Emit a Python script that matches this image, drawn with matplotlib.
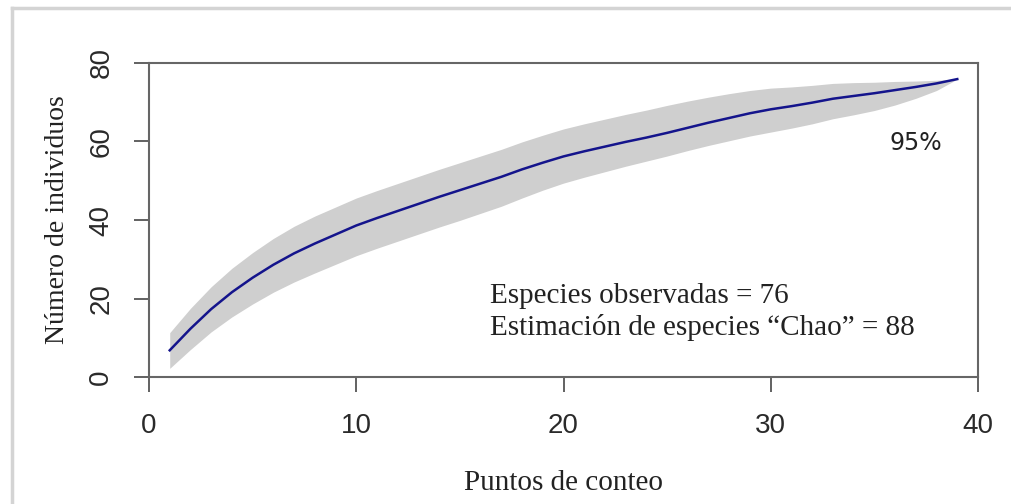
import matplotlib
matplotlib.use("Agg")
import matplotlib.pyplot as plt
from matplotlib.lines import Line2D

# Data
puntos = list(range(1, 40))
especies = [6.8, 12.3, 17.3, 21.6, 25.3, 28.6, 31.5, 34.0, 36.3, 38.6,
            40.5, 42.3, 44.1, 45.9, 47.6, 49.3, 51.0, 52.9, 54.6, 56.2,
            57.5, 58.7, 59.9, 61.0, 62.2, 63.5, 64.8, 66.0, 67.2, 68.2,
            69.0, 69.9, 70.9, 71.6, 72.3, 73.1, 73.9, 74.8, 75.9]
ic_superior = [11.3, 17.5, 23.0, 27.7, 31.7, 35.3, 38.4, 41.0, 43.3, 45.6,
               47.5, 49.3, 51.1, 52.9, 54.6, 56.3, 58.0, 59.9, 61.6, 63.2,
               64.5, 65.7, 66.9, 68.0, 69.2, 70.3, 71.3, 72.2, 73.0, 73.6,
               73.9, 74.3, 74.8, 75.0, 75.1, 75.3, 75.4, 75.6, 75.9]
ic_inferior = [2.2, 7.0, 11.5, 15.3, 18.6, 21.6, 24.2, 26.5, 28.7, 30.9,
               32.8, 34.6, 36.4, 38.2, 39.9, 41.7, 43.5, 45.6, 47.6, 49.4,
               50.9, 52.3, 53.7, 55.0, 56.3, 57.7, 59.0, 60.2, 61.4, 62.4,
               63.4, 64.5, 65.8, 66.8, 67.9, 69.3, 71.0, 73.0, 75.9]
xticks = [0, 10, 20, 30, 40]
yticks = [0, 20, 40, 60, 80]

fig = plt.figure(figsize=(10.11, 5.04), dpi=100)
ax = fig.add_axes([149/1011, 1 - 377/504, (978-149)/1011, (377-63)/504])

ax.fill_between(puntos, ic_inferior, ic_superior, color="#cfcfcf", linewidth=0)
ax.plot(puntos, especies, color="#14148c", linewidth=1.8)

ax.set_xlim(0, 40)
ax.set_ylim(0, 80)
ax.set_xticks(xticks)
ax.set_yticks(yticks)
ax.set_xticklabels([str(v) for v in xticks], family="Liberation Sans", fontsize=20, color="#2a2a2a")
ax.set_yticklabels([str(v) for v in yticks], family="Liberation Sans", fontsize=20, color="#2a2a2a",
                   rotation=90, va="center")
ax.tick_params(axis="both", direction="out", length=11, width=1.3, colors="#555555")
ax.tick_params(axis="x", pad=15, labelcolor="#2a2a2a")
ax.tick_params(axis="y", pad=14, labelcolor="#2a2a2a")
for s in ax.spines.values():
    s.set_color("#666666")
    s.set_linewidth(1.5)

ax.set_xlabel("Puntos de conteo", family="Liberation Serif", fontsize=21, color="#222222", labelpad=22)
ax.set_ylabel("Número de individuos", family="Liberation Serif", fontsize=20, color="#222222", labelpad=13)

ax.text(16.46, 20.6, "Especies observadas = 76", family="Liberation Serif", fontsize=21,
        color="#222222", ha="left", va="center")
ax.text(16.46, 12.7, "Estimación de especies \u201cChao\u201d = 88", family="Liberation Serif", fontsize=21,
        color="#222222", ha="left", va="center")
ax.text(37.0, 59.6, "95%", family="DejaVu Sans", fontsize=17, color="#222222", ha="center", va="center")

# outer border
fig.add_artist(Line2D([12/1011, 12/1011], [0, 1 - 8/504], transform=fig.transFigure, color="#d4d4d4", linewidth=2.5))
fig.add_artist(Line2D([12/1011, 1], [1 - 8/504, 1 - 8/504], transform=fig.transFigure, color="#d4d4d4", linewidth=2.5))

fig.savefig("out.png", dpi=100)
